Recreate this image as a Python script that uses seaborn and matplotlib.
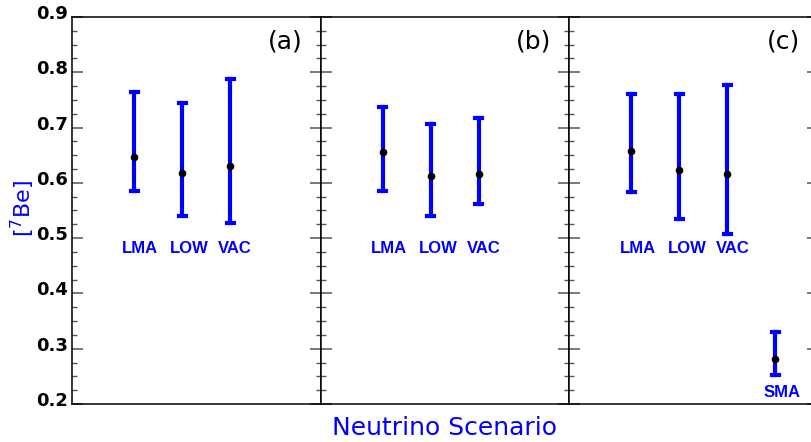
import numpy as np
import pandas as pd
import matplotlib
matplotlib.use('Agg')
from matplotlib import pyplot as plt
from matplotlib.ticker import MultipleLocator
import matplotlib.transforms as mtrans
import seaborn as sns

plt.rcParams['font.family'] = ['DejaVu Sans']

panel_names = ['(a)', '(b)', '(c)']
scenarios_ab = ['LMA', 'LOW', 'VAC']
scenarios_c = ['LMA', 'LOW', 'VAC', 'SMA']

# best fit value and the ends of each bar
central_a = [0.647, 0.618, 0.631]
low_a = [0.585, 0.540, 0.527]
high_a = [0.764, 0.744, 0.787]

central_b = [0.655, 0.612, 0.616]
low_b = [0.585, 0.540, 0.561]
high_b = [0.737, 0.707, 0.717]

central_c = [0.657, 0.623, 0.616, 0.281]
low_c = [0.583, 0.535, 0.508, 0.253]
high_c = [0.761, 0.761, 0.777, 0.330]

yticks = [0.2, 0.3, 0.4, 0.5, 0.6, 0.7, 0.8, 0.9]
ytick_labels = ['0.2', '0.3', '0.4', '0.5', '0.6', '0.7', '0.8', '0.9']

# layout: where each scenario sits inside a panel, and where its name goes
scen_x = {'LMA': 0.25, 'LOW': 0.443, 'VAC': 0.636, 'SMA': 0.828}
name_y = {'LMA': 0.481, 'LOW': 0.481, 'VAC': 0.481, 'SMA': 0.221}

panels = [
    (scenarios_ab, central_a, low_a, high_a),
    (scenarios_ab, central_b, low_b, high_b),
    (scenarios_c, central_c, low_c, high_c),
]

W, H = 812, 442
fig = plt.figure(figsize=(W / 100, H / 100), dpi=100)
lefts = [72, 320.7, 569.3]
pw = 248.7
bottom_px, top_px = 404, 17

for i, (scen, cen, lo, hi) in enumerate(panels):
    ax = fig.add_axes([lefts[i] / W, (H - bottom_px) / H, pw / W, (bottom_px - top_px) / H])
    rows = []
    for s, c, l, h in zip(scen, cen, lo, hi):
        for v in (l, c, h):
            rows.append({'x': scen_x[s], 'val': v})
    df = pd.DataFrame(rows)
    sns.pointplot(data=df, x='x', y='val', native_scale=True, orient='x',
                  estimator='median', errorbar=lambda v: (v.min(), v.max()),
                  color='black', markers='o', linestyle='none', capsize=0.15,
                  markersize=5.5, markeredgewidth=0,
                  err_kws={'color': '#0000ff', 'linewidth': 3.0, 'zorder': 1.5},
                  ax=ax)
    for s in scen:
        ax.annotate(s, xy=(scen_x[s], name_y[s]), xytext=(-8.5, 0), textcoords='offset points',
                    ha='left', va='center', color='#0000ff', fontsize=12,
                    fontweight='bold', family='Liberation Sans')

    ax.set_xlim(0, 1)
    ax.set_ylim(0.2, 0.9)
    ax.set_xticks([])
    ax.set_yticks(yticks)
    ax.set_yticklabels(ytick_labels if i == 0 else [])
    ax.yaxis.set_minor_locator(MultipleLocator(0.025))
    ax.tick_params(axis='y', which='both', direction='in', left=True, right=True,
                   color='#555555', labelsize=13, labelcolor='black', pad=3)
    ax.tick_params(axis='y', which='major', length=8, width=1.1)
    ax.tick_params(axis='y', which='minor', length=3.8, width=1.0)
    ax.set_xlabel('')
    ax.set_ylabel('')
    for sp in ax.spines.values():
        sp.set_linewidth(1.1)
        sp.set_color('black')
    if i == 0:
        shift = mtrans.ScaledTranslation(0, 5 / 100, fig.dpi_scale_trans)
        for lbl in ax.get_yticklabels():
            lbl.set_transform(lbl.get_transform() + shift)
            lbl.set_fontweight('bold')
    ax.annotate(panel_names[i], xy=(1, 1), xycoords='axes fraction', xytext=(-13, -17.5),
                textcoords='offset points', ha='right', va='center', fontsize=18)

fig.text(23 / W, 1 - 208 / H, '[$^7$Be]', rotation=90, color='#0000ff', fontsize=16,
         ha='center', va='center')
fig.text(445 / W, 1 - 428 / H, 'Neutrino Scenario', color='#0000ff', fontsize=18,
         ha='center', va='center')

fig.savefig('out.png', dpi=100)
